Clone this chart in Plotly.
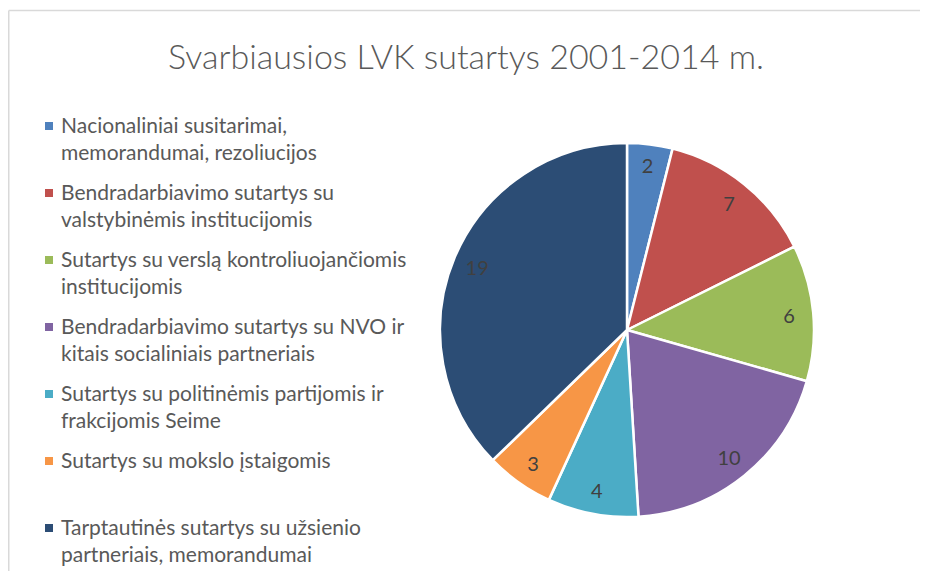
import plotly.graph_objects as go

categories = [
    "Nacionaliniai susitarimai,<br>memorandumai, rezoliucijos",
    "Bendradarbiavimo sutartys su<br>valstybinėmis institucijomis",
    "Sutartys su verslą kontroliuojančiomis<br>institucijomis",
    "Bendradarbiavimo sutartys su NVO ir<br>kitais socialiniais partneriais",
    "Sutartys su politinėmis partijomis ir<br>frakcijomis Seime",
    "Sutartys su mokslo įstaigomis",
    "Tarptautinės sutartys su užsienio<br>partneriais, memorandumai",
]
values = [2, 7, 6, 10, 4, 3, 19]
colors = ["#4F81BD", "#C0504D", "#9BBB59", "#8064A2", "#4BACC6", "#F79646", "#2C4D75"]
title = "Svarbiausios LVK sutartys 2001-2014 m."

# page body adds an 8px margin; figure is sized/positioned to compensate
OFF = 8
W, H = 928 - OFF, 571 - OFF
FONT = "Lato"
TXT = "#595959"


def px(x):
    return (x - OFF) / W


def py(y):
    return 1 - (y - OFF) / H


cx, cy, R = 627, 330, 187
labels_flat = [c.replace("<br>", " ") for c in categories]
pie_domain = dict(x=[px(cx - R), px(cx + R)], y=[py(cy + R), py(cy - R)])

fig = go.Figure()
fig.add_trace(go.Pie(
    labels=labels_flat,
    values=values,
    sort=False,
    direction="clockwise",
    rotation=0,
    marker=dict(colors=colors, line=dict(color="white", width=2.5)),
    textinfo="none",
    domain=pie_domain,
    showlegend=False,
    hoverinfo="label+value",
))
# transparent ring overlay used only to place the value labels near the rim
fig.add_trace(go.Pie(
    labels=labels_flat,
    values=values,
    sort=False,
    direction="clockwise",
    rotation=0,
    hole=0.74,
    marker=dict(colors=["rgba(0,0,0,0)"] * len(values), line=dict(width=0)),
    textinfo="value",
    textposition="inside",
    insidetextorientation="horizontal",
    textfont=dict(family=FONT, size=20, color="#404040"),
    domain=pie_domain,
    showlegend=False,
    hoverinfo="skip",
))

BORDER = dict(color="#D9D9D9", width=1.5)
top_y = py(10.5)
shapes = [
    dict(type="line", xref="paper", yref="paper", x0=px(8.75), x1=px(922.5), y0=top_y, y1=top_y, line=BORDER),
    dict(type="line", xref="paper", yref="paper", x0=px(8.75), x1=px(8.75), y0=0, y1=top_y, line=BORDER),
    dict(type="line", xref="paper", yref="paper", x0=px(922.5), x1=px(922.5), y0=0, y1=top_y, line=BORDER),
]
annotations = []
pitch = 67
first = 126
for i, (cat, col) in enumerate(zip(categories, colors)):
    yc = first + pitch * i
    shapes.append(dict(type="rect", xref="paper", yref="paper",
                       x0=px(45), x1=px(53), y0=py(yc + 4), y1=py(yc - 4),
                       line=dict(width=0), fillcolor=col))
    annotations.append(dict(
        text=cat, xref="paper", yref="paper", x=px(59), y=py(yc - 16),
        xanchor="left", yanchor="top", align="left", showarrow=False,
        font=dict(family=FONT, size=21, color=TXT),
    ))

fig.update_layout(
    width=W, height=H,
    margin=dict(l=0, r=0, t=0, b=0),
    paper_bgcolor="white",
    plot_bgcolor="white",
    title=dict(text=title, x=px(466), xanchor="center", y=py(57), yanchor="middle",
               font=dict(family=FONT, size=34, color=TXT, weight=300)),
    shapes=shapes,
    annotations=annotations,
    showlegend=False,
)

fig.write_html("out.html")
